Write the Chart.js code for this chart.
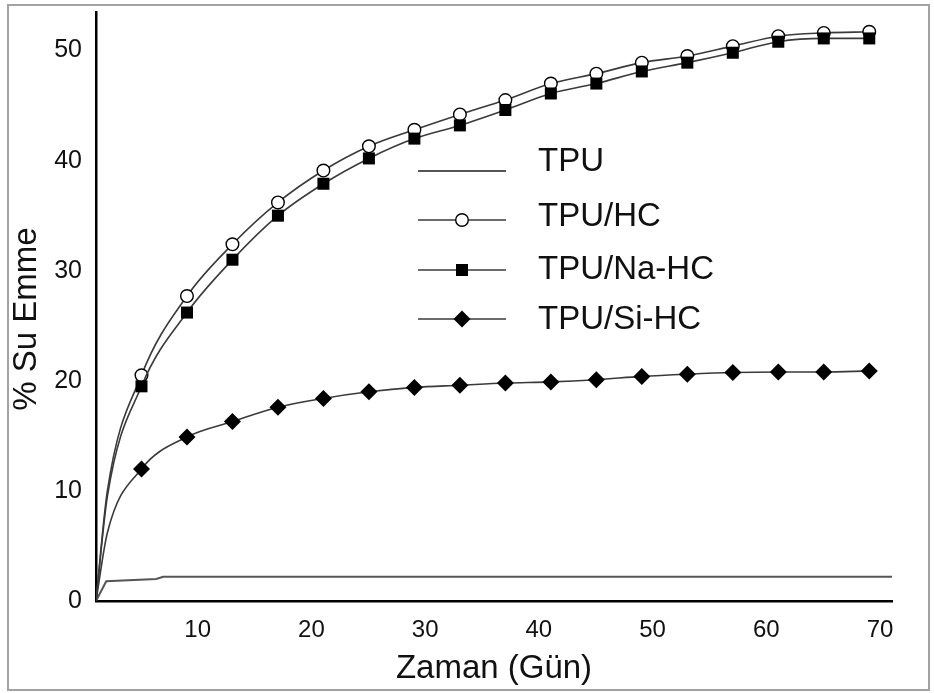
<!DOCTYPE html>
<html>
<head>
<meta charset="utf-8">
<title>% Su Emme</title>
<script src="https://cdn.jsdelivr.net/npm/chart.js@4/dist/chart.umd.min.js"></script>
<style>
  html, body { margin: 0; padding: 0; background: #fff; overflow: hidden; }
  canvas { display: block; }
</style>
</head>
<body>
<canvas id="waterChart" width="934" height="693"></canvas>
<script>
// Water uptake (%) vs. time in days
const days = [0, 1, 4, 8, 12, 16, 20, 24, 28, 32, 36, 40, 44, 48, 52, 56, 60, 64, 68];
const tpuHc = [0, 10.0, 20.5, 27.7, 32.4, 36.2, 39.1, 41.3, 42.8, 44.2, 45.5, 47.0, 47.9, 48.9, 49.5, 50.4, 51.3, 51.6, 51.7];
const tpuNaHc = [0, 9.5, 19.5, 26.2, 31.0, 35.0, 37.9, 40.2, 42.0, 43.2, 44.6, 46.1, 47.0, 48.1, 48.9, 49.8, 50.8, 51.1, 51.1];
const tpuSiHc = [0, 6.2, 12.0, 14.9, 16.3, 17.6, 18.4, 19.0, 19.4, 19.6, 19.8, 19.9, 20.1, 20.4, 20.6, 20.75, 20.8, 20.8, 20.9];

// plain TPU is only a thin line, no markers
const tpuDays = [0, 0.9, 5.3, 5.9, 70];
const tpu = [0, 1.8, 2.0, 2.2, 2.2];

const xTicks = [10, 20, 30, 40, 50, 60, 70];
const yTicks = [0, 10, 20, 30, 40, 50];

const X_TITLE = 'Zaman (Gün)';
const Y_TITLE = '% Su Emme';

const FONT = "'Liberation Sans', Arial, sans-serif";
const LINE = '#3a3a3a';

const toPoints = (xs, ys) => xs.map((x, i) => ({ x: x, y: ys[i] }));
// markers only on the measured days (first one at day 4)
const markerRadius = (r) => days.map((d) => (d >= 4 ? r : 0));

const datasets = [
    {
        label: 'TPU',
        data: toPoints(tpuDays, tpu),
        borderColor: '#555',
        borderWidth: 2,
        pointRadius: 0,
        tension: 0,
        order: 4,
    },
    {
        label: 'TPU/HC',
        data: toPoints(days, tpuHc),
        borderColor: LINE,
        borderWidth: 1.6,
        pointStyle: 'circle',
        pointRadius: markerRadius(6.3),
        pointBackgroundColor: '#fff',
        pointBorderColor: '#000',
        pointBorderWidth: 1.4,
        cubicInterpolationMode: 'monotone',
        order: 3,
    },
    {
        label: 'TPU/Na-HC',
        data: toPoints(days, tpuNaHc),
        borderColor: LINE,
        borderWidth: 1.6,
        pointStyle: 'rect',
        pointRadius: markerRadius(8.5),
        pointBackgroundColor: '#000',
        pointBorderColor: '#000',
        pointBorderWidth: 0,
        cubicInterpolationMode: 'monotone',
        order: 2,
    },
    {
        label: 'TPU/Si-HC',
        data: toPoints(days, tpuSiHc),
        borderColor: LINE,
        borderWidth: 1.6,
        pointStyle: 'rectRot',
        pointRadius: markerRadius(8.5),
        pointBackgroundColor: '#000',
        pointBorderColor: '#000',
        pointBorderWidth: 0,
        cubicInterpolationMode: 'monotone',
        order: 1,
    },
];

// white page with a thin grey frame
const framePlugin = {
    id: 'frame',
    beforeDraw(chart) {
        const ctx = chart.ctx;
        ctx.save();
        ctx.fillStyle = '#fff';
        ctx.fillRect(0, 0, chart.width, chart.height);
        ctx.strokeStyle = '#a3a3a3';
        ctx.lineWidth = 2;
        ctx.strokeRect(8, 5, 921, 685);
        ctx.restore();
    },
};

// y title sits a bit below the middle of the axis, so it is drawn by hand
const yTitlePlugin = {
    id: 'yTitle',
    afterDraw(chart) {
        const ctx = chart.ctx;
        ctx.save();
        ctx.translate(27, 319);
        ctx.rotate(-Math.PI / 2);
        ctx.fillStyle = '#111';
        ctx.font = '33px ' + FONT;
        ctx.textAlign = 'center';
        ctx.textBaseline = 'middle';
        ctx.fillText(Y_TITLE, 0, 0);
        ctx.restore();
    },
};

// legend block in the middle of the plot: line sample, marker, label
const legendPlugin = {
    id: 'sampleLegend',
    afterDraw(chart) {
        const ctx = chart.ctx;
        const lineY = [171, 220, 270, 319];
        const textY = [162, 217, 270, 320];
        ctx.save();
        chart.data.datasets.forEach((ds, i) => {
            ctx.strokeStyle = ds.borderColor;
            ctx.lineWidth = ds.borderWidth;
            ctx.beginPath();
            ctx.moveTo(418, lineY[i]);
            ctx.lineTo(506, lineY[i]);
            ctx.stroke();
            const r = Array.isArray(ds.pointRadius) ? Math.max(...ds.pointRadius) : ds.pointRadius;
            if (r > 0) {
                ctx.fillStyle = ds.pointBackgroundColor;
                ctx.strokeStyle = ds.pointBorderColor;
                ctx.lineWidth = ds.pointBorderWidth;
                Chart.helpers.drawPoint(ctx, {
                    pointStyle: ds.pointStyle,
                    radius: r,
                    rotation: 0,
                    borderWidth: ds.pointBorderWidth,
                }, 462, lineY[i]);
            }
            ctx.fillStyle = '#111';
            ctx.font = '33px ' + FONT;
            ctx.textAlign = 'left';
            ctx.textBaseline = 'middle';
            ctx.fillText(ds.label, 538, textY[i]);
        });
        ctx.restore();
    },
};

// fixed axis sizes, without the automatic edge padding
const fitX = (scale) => {
    scale.height = 88;
    scale.paddingLeft = 0;
    scale.paddingRight = 0;
};
const fitY = (scale) => {
    scale.width = 88;
    scale.paddingTop = 0;
    scale.paddingBottom = 0;
};

new Chart(document.getElementById('waterChart'), {
    type: 'line',
    data: { datasets: datasets },
    plugins: [framePlugin, yTitlePlugin, legendPlugin],
    options: {
        responsive: false,
        animation: false,
        layout: { padding: { left: 8, top: 12, right: 42, bottom: 4 } },
        plugins: {
            legend: { display: false },
            tooltip: { enabled: false },
        },
        scales: {
            x: {
                type: 'linear',
                min: 0,
                max: 70,
                grid: { display: false, drawTicks: false },
                border: { display: true, color: '#000', width: 2.5 },
                afterBuildTicks: (scale) => {
                    scale.ticks = xTicks.map((v) => ({ value: v }));
                },
                afterFit: fitX,
                ticks: {
                    padding: 15,
                    labelOffset: -12,
                    color: '#111',
                    maxRotation: 0,
                    autoSkip: false,
                    font: { family: FONT, size: 24 },
                },
                title: {
                    display: true,
                    text: X_TITLE,
                    color: '#111',
                    font: { family: FONT, size: 33 },
                    padding: { top: 0, bottom: 0 },
                },
            },
            y: {
                type: 'linear',
                min: 0,
                max: 53.5,
                grid: { display: false, drawTicks: false },
                border: { display: true, color: '#000', width: 2.5 },
                afterBuildTicks: (scale) => {
                    scale.ticks = yTicks.map((v) => ({ value: v }));
                },
                afterFit: fitY,
                ticks: {
                    padding: 14,
                    color: '#111',
                    font: { family: FONT, size: 25 },
                },
                title: { display: false },
            },
        },
    },
});
</script>
</body>
</html>
